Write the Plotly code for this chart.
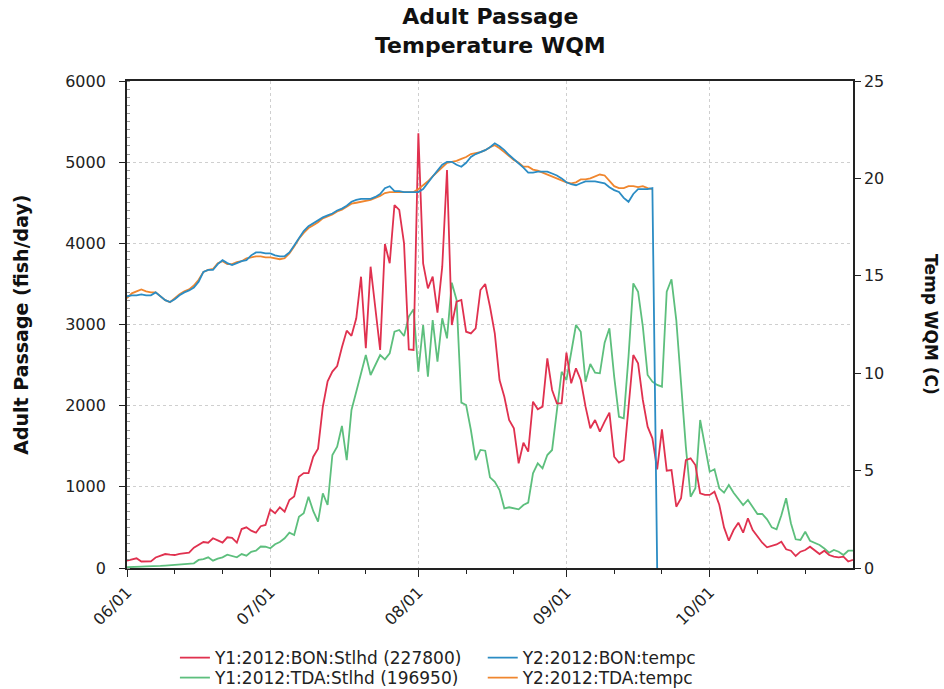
import pandas as pd
import plotly.graph_objects as go

start_date = "2012-06-01"
n_days = 153

bon_stlhd = [90, 107, 120, 80, 80, 82, 130, 150, 172, 165, 160, 175, 180, 189, 250, 280, 320, 312, 366, 340,
             312, 378, 370, 312, 480, 501, 460, 435, 515, 530, 720, 674, 748, 694, 838, 880, 1125, 1170, 1170, 1371,
             1470, 1987, 2300, 2420, 2489, 2720, 2924, 2860, 3076, 3589, 2707, 3712, 3200, 2686, 3992, 3754, 4472, 4411, 4000, 2694,
             2686, 5355, 3754, 3446, 3589, 3146, 3712, 4903, 2994, 3281, 3302, 2911, 2891, 2953, 3425, 3499, 3219, 2891, 2316, 2110,
             1823, 1721, 1290, 1544, 1433, 2049, 1955, 1988, 2583, 2193, 2029, 2029, 2653, 2275, 2460, 2316, 1988, 1721, 1823, 1680,
             1803, 1914, 1371, 1298, 1330, 2029, 2624, 2521, 2070, 1741, 1598, 1216, 1709, 1199, 1207, 755, 859, 1330, 1351, 1269,
             920, 900, 900, 940, 780, 500, 336, 468, 558, 435, 612, 468, 394, 312, 255, 271, 290, 324, 230, 213,
             148, 201, 222, 262, 222, 172, 213, 160, 139, 132, 139, 80, 100]

tda_stlhd = [10, 15, 15, 18, 20, 20, 22, 25, 30, 35, 37, 40, 45, 55, 58, 99, 110, 132, 90, 115,
             132, 165, 150, 132, 172, 152, 200, 213, 265, 262, 243, 292, 320, 366, 435, 407, 632, 674, 878, 700,
             571, 920, 776, 1392, 1495, 1750, 1330, 1947, 2172, 2400, 2624, 2378, 2500, 2624, 2571, 2645, 2911, 2932, 2858, 3097,
             3187, 2418, 2994, 2357, 3055, 2542, 3076, 2830, 3515, 3302, 2037, 2008, 1700, 1330, 1454, 1445, 1117, 1063, 961, 735,
             748, 740, 723, 776, 805, 1166, 1290, 1228, 1392, 1454, 1947, 2418, 2316, 2645, 2994, 2911, 2295, 2513, 2406, 2398,
             2776, 2953, 2357, 1864, 1844, 2603, 3507, 3404, 2973, 2378, 2295, 2255, 2234, 3404, 3557, 3055, 2234, 1495, 878, 982,
             1823, 1495, 1186, 1216, 982, 928, 1023, 928, 850, 776, 838, 750, 665, 665, 600, 501, 477, 650, 859, 551,
             354, 345, 447, 336, 312, 283, 240, 189, 222, 201, 160, 213, 213]

bon_temp = [13.95, 14.0, 14.0, 14.05, 14.0, 14.0, 14.15, 13.95, 13.75, 13.65, 13.8, 14.0, 14.15, 14.25, 14.4, 14.7, 15.2, 15.3, 15.3, 15.6,
            15.8, 15.65, 15.55, 15.65, 15.75, 15.8, 16.05, 16.2, 16.2, 16.15, 16.15, 16.05, 16.0, 16.0, 16.2, 16.55, 16.95, 17.3, 17.55, 17.7,
            17.85, 18.0, 18.1, 18.2, 18.35, 18.45, 18.6, 18.8, 18.9, 18.95, 18.95, 18.95, 19.05, 19.2, 19.5, 19.6, 19.35, 19.35, 19.3, 19.3,
            19.3, 19.3, 19.45, 19.8, 20.1, 20.4, 20.7, 20.85, 20.85, 20.7, 20.6, 20.8, 21.1, 21.25, 21.35, 21.45, 21.6, 21.8, 21.65, 21.45,
            21.2, 21.0, 20.75, 20.55, 20.3, 20.3, 20.35, 20.35, 20.35, 20.25, 20.15, 20.0, 19.8, 19.7, 19.65, 19.75, 19.85, 19.85, 19.85, 19.8,
            19.75, 19.55, 19.4, 19.3, 19.0, 18.8, 19.2, 19.45, 19.45, 19.45, 19.5, 0.0]

tda_temp = [13.85, 14.1, 14.2, 14.3, 14.2, 14.15, 14.15, 13.95, 13.75, 13.65, 13.85, 14.05, 14.2, 14.3, 14.5, 14.8, 15.2, 15.3, 15.35, 15.65,
            15.75, 15.6, 15.6, 15.7, 15.75, 15.9, 15.95, 16.0, 16.0, 15.95, 15.95, 15.9, 15.85, 15.9, 16.15, 16.5, 16.9, 17.2, 17.45, 17.6,
            17.75, 17.95, 18.05, 18.15, 18.3, 18.4, 18.55, 18.7, 18.75, 18.8, 18.85, 18.9, 19.0, 19.1, 19.25, 19.3, 19.3, 19.3, 19.3, 19.3,
            19.3, 19.45, 19.65, 19.85, 20.1, 20.35, 20.6, 20.8, 20.85, 20.9, 21.0, 21.1, 21.25, 21.3, 21.35, 21.45, 21.6, 21.7, 21.55, 21.35,
            21.15, 20.95, 20.8, 20.6, 20.6, 20.45, 20.4, 20.3, 20.2, 20.1, 20.0, 19.9, 19.8, 19.75, 19.8, 19.95, 19.95, 20.0, 20.1, 20.2,
            20.15, 19.9, 19.6, 19.5, 19.5, 19.6, 19.6, 19.55, 19.6, 19.5, 19.45]

month_ticks = ["2012-06-01", "2012-07-01", "2012-08-01", "2012-09-01", "2012-10-01"]
month_labels = ["06/01", "07/01", "08/01", "09/01", "10/01"]
minor_ticks = ["2012-06-11", "2012-06-21", "2012-07-11", "2012-07-21", "2012-08-11", "2012-08-21",
               "2012-09-11", "2012-09-21", "2012-10-11", "2012-10-21"]

dates = pd.date_range(start_date, periods=n_days)

FONT = "DejaVu Sans"
RED = "#e0314f"
GREEN = "#5dbf7d"
BLUE = "#2b8cc4"
ORANGE = "#f0862e"

fig = go.Figure()
fig.add_trace(go.Scatter(x=dates[:len(tda_temp)], y=tda_temp, name="Y2:2012:TDA:tempc", yaxis="y2",
                         mode="lines", line=dict(color=ORANGE, width=1.8), legend="legend4", showlegend=True))
fig.add_trace(go.Scatter(x=dates[:len(bon_temp)], y=bon_temp, name="Y2:2012:BON:tempc", yaxis="y2",
                         mode="lines", line=dict(color=BLUE, width=1.8), legend="legend2", showlegend=True))
fig.add_trace(go.Scatter(x=dates, y=tda_stlhd, name="Y1:2012:TDA:Stlhd (196950)",
                         mode="lines", line=dict(color=GREEN, width=1.8), legend="legend3", showlegend=True))
fig.add_trace(go.Scatter(x=dates, y=bon_stlhd, name="Y1:2012:BON:Stlhd (227800)",
                         mode="lines", line=dict(color=RED, width=1.8), legend="legend", showlegend=True))

axis_common = dict(showline=True, linecolor="#222", linewidth=1.5, ticks="outside", tickcolor="#222",
                   tickfont=dict(family=FONT, size=16, color="#222"), zeroline=False)

legend_font = dict(family=FONT, size=17, color="#222")


def leg(x, y):
    return dict(orientation="v", x=x, y=y, xanchor="left", yanchor="top", font=legend_font, visible=True,
                tracegroupgap=0, itemwidth=30, bgcolor="rgba(0,0,0,0)")


fig.update_layout(
    width=944, height=689,
    showlegend=True,
    margin=dict(l=127, r=91, t=81, b=121, autoexpand=False),
    paper_bgcolor="white", plot_bgcolor="white",
    font=dict(family=FONT, color="#222"),
    xaxis=dict(type="date", range=["2012-06-01", "2012-10-31"], tickmode="array",
               tickvals=month_ticks, ticktext=month_labels, tickangle=-45, ticklen=7,
               showgrid=True, gridcolor="#cfcfcf", griddash="dot", gridwidth=1, mirror=True,
               minor=dict(tickmode="array", tickvals=minor_ticks, ticks="outside", ticklen=4,
                          tickcolor="#222", showgrid=False),
               **axis_common),
    yaxis=dict(range=[0, 6000], tickmode="linear", tick0=0, dtick=1000, ticklen=6,
               ticksuffix="\u00a0\u00a0",
               showgrid=True, gridcolor="#cfcfcf", griddash="dot", gridwidth=1, mirror=True,
               minor=dict(dtick=100, ticks="inside", ticklen=3, tickcolor="#999", showgrid=False),
               **axis_common),
    yaxis2=dict(range=[0, 25], tickmode="linear", tick0=0, dtick=5, ticklen=6, overlaying="y", side="right",
                showgrid=False, **axis_common),
    legend=leg(0.066, -0.148),
    legend3=leg(0.066, -0.189),
    legend2=leg(0.490, -0.148),
    legend4=leg(0.490, -0.189),
    annotations=[
        dict(text="<b>Adult Passage</b><br><b>Temperature WQM</b>", xref="paper", yref="paper",
             x=0.5, y=1.1027, xanchor="center", yanchor="middle", showarrow=False,
             font=dict(family=FONT, size=22, color="#111")),
        dict(text="<b>Adult Passage (fish/day)</b>", xref="paper", yref="paper", x=-0.147, y=0.5,
             xanchor="center", yanchor="middle", textangle=-90, showarrow=False,
             font=dict(family=FONT, size=19, color="#111")),
        dict(text="<b>Temp WQM (C)</b>", xref="paper", yref="paper", x=1.108, y=0.5,
             xanchor="center", yanchor="middle", textangle=90, showarrow=False,
             font=dict(family=FONT, size=17, color="#111")),
    ],
)

fig.write_html("out.html")
